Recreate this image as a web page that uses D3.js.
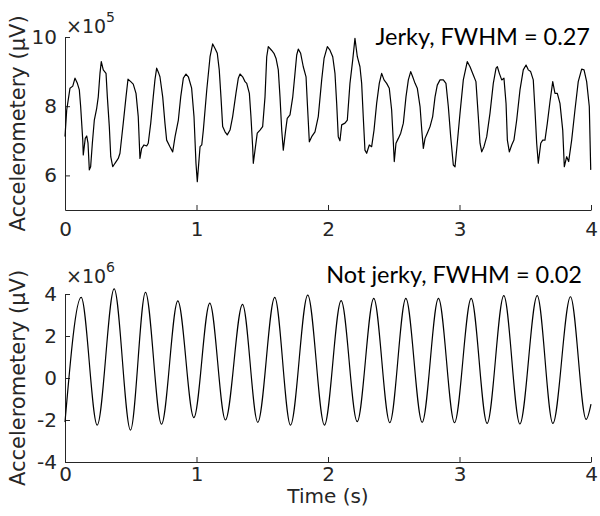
<!DOCTYPE html>
<html><head><meta charset="utf-8">
<script src="https://cdn.jsdelivr.net/npm/d3@7"></script>
<style>
body{margin:0;background:#fff;}
svg text{font-family:"DejaVu Sans",sans-serif;}
</style></head><body>
<svg id="c" width="600" height="516"></svg>
<script>
// Jerky recording (values in units of 1e5 µV)
const jerkyTime = [0,0.013,0.038,0.059,0.076,0.094,0.109,0.119,0.135,0.139,0.154,0.165,0.175,0.185,0.195,0.208,0.223,0.241,0.253,0.266,0.276,0.291,0.312,0.322,0.337,0.348,0.363,0.380,0.405,0.418,0.443,0.464,0.479,0.500,0.519,0.540,0.557,0.570,0.583,0.601,0.621,0.633,0.652,0.671,0.684,0.697,0.713,0.722,0.743,0.760,0.773,0.798,0.819,0.837,0.862,0.880,0.900,0.920,0.938,0.963,0.981,0.996,1.006,
1.027,1.040,1.052,1.078,1.103,1.123,1.141,1.158,1.173,1.186,1.199,1.217,1.234,1.255,1.275,1.300,1.318,1.331,1.351,1.369,1.382,1.402,1.414,1.427,1.432,1.445,1.462,1.483,1.503,1.521,1.534,1.546,1.572,1.589,1.605,1.622,1.635,1.648,1.660,1.678,1.690,1.711,1.732,1.749,1.762,1.774,1.792,1.812,1.833,1.843,1.858,1.876,1.901,1.926,1.952,1.970,1.995,2.015,2.036,2.053,2.066,2.078,
2.091,2.104,2.129,2.147,2.167,2.188,2.205,2.223,2.243,2.256,2.268,2.281,2.294,2.314,2.332,2.350,2.370,2.390,2.408,2.426,2.446,2.466,2.484,2.496,2.504,2.517,2.535,2.553,2.573,2.593,2.611,2.629,2.644,2.662,2.679,2.700,2.713,2.725,2.738,2.755,2.776,2.796,2.814,2.831,2.852,2.877,2.897,2.915,2.933,2.953,2.966,2.983,3.004,3.029,3.059,3.080,3.105,
3.125,3.143,3.156,3.169,3.186,3.207,3.232,3.257,3.278,3.288,3.303,3.321,3.338,3.354,3.364,3.379,3.397,3.414,3.435,3.460,3.485,3.506,3.523,3.541,3.561,3.574,3.587,3.599,3.618,3.633,3.650,3.668,3.688,3.709,3.726,3.744,3.764,3.785,3.797,3.815,3.830,3.853,3.878,3.903,3.929,3.947,3.967,3.987,3.998];
const jerkyValue = [7.12,7.89,8.52,8.58,8.81,8.66,8.47,7.99,7.02,6.59,7.07,7.14,6.93,6.16,6.25,6.93,7.60,7.94,8.27,8.95,9.29,9.05,8.95,8.27,7.41,6.54,6.25,6.35,6.49,6.64,7.51,8.27,8.78,8.71,8.64,8.37,7.70,6.49,6.78,6.88,6.85,6.93,7.51,8.27,8.76,9.10,8.95,8.85,8.27,7.51,7.02,6.83,6.68,7.12,7.60,8.27,8.81,8.93,8.85,8.52,7.70,6.35,5.82,
6.83,6.88,7.31,8.47,9.43,9.80,9.67,9.53,9.05,8.27,7.41,7.26,7.17,7.31,7.70,8.37,8.81,8.93,8.85,8.71,8.66,8.37,7.70,6.83,6.35,6.73,7.22,7.31,7.41,8.27,9.43,9.72,9.61,9.53,9.38,9.05,8.27,7.31,6.73,7.31,7.65,7.75,8.27,8.95,9.48,9.65,9.53,9.14,8.85,8.08,6.97,7.12,7.26,7.70,8.76,9.38,9.72,9.62,9.43,8.95,8.08,7.12,
7.00,7.46,7.51,7.60,8.66,9.34,9.96,9.43,9.14,8.66,7.70,6.73,6.64,6.88,6.83,7.31,8.08,8.66,8.95,8.76,8.66,8.52,7.89,7.02,6.40,6.93,7.07,7.22,7.51,8.27,8.76,9.00,8.85,8.66,8.52,7.99,7.31,6.78,7.07,7.22,7.41,7.70,8.27,8.61,8.76,8.76,8.66,7.99,7.12,6.30,6.25,6.93,7.80,8.76,9.29,9.14,8.90,
8.71,7.70,6.93,6.68,6.83,7.12,7.80,8.66,9.10,9.14,8.95,8.76,8.81,8.08,7.02,6.68,6.88,7.02,7.60,8.47,9.05,9.19,9.05,9.00,8.76,7.89,6.93,6.35,6.93,7.02,7.02,7.51,8.13,8.71,8.37,8.37,8.08,7.31,6.25,6.54,6.40,7.02,7.89,8.71,9.07,9.05,8.71,7.99,6.16];

// Not jerky recording (values in units of 1e6 µV): successive peaks and troughs
const smoothTime = [0,0.123,0.245,0.374,0.498,0.612,0.734,0.858,0.980,1.101,1.220,1.350,1.466,1.595,1.715,1.846,1.973,2.100,2.222,2.348,2.470,2.592,2.716,2.840,2.962,3.089,3.210,3.337,3.459,3.591,3.710,3.844,3.963,4.000];
const smoothValue = [-2.10,3.84,-2.24,4.24,-2.48,4.08,-2.20,3.67,-1.89,3.57,-2.00,3.51,-2.11,3.84,-2.24,3.95,-2.24,3.68,-2.08,3.79,-2.13,3.79,-2.11,3.79,-2.13,3.79,-2.16,3.92,-2.19,3.92,-2.16,3.87,-1.97,-1.24];

const timeTicks = [0,1,2,3,4];
const jerkyTicks = [6,8,10];
const smoothTicks = [-4,-2,0,2,4];
const titles = ["Jerky, FWHM = 0.27", "Not jerky, FWHM = 0.02"];
const exponents = ["5","6"];
const yLabel = "Accelerometery (\u03bcV)";
const xLabel = "Time (s)";

const svg = d3.select("#c");
const axisColor = "#262626";
const fmt = d => (d < 0 ? "-" : "") + Math.abs(d);

function panel(cfg) {
  const x = d3.scaleLinear().domain([0,4]).range([65,591]);
  const y = d3.scaleLinear().domain(cfg.domain).range([cfg.bottom, cfg.top]);
  const g = svg.append("g");

  const xa = g.append("g").attr("transform", `translate(0,${cfg.bottom})`)
    .call(d3.axisBottom(x).tickValues(timeTicks).tickFormat(fmt)
      .tickSizeInner(-5).tickSizeOuter(0).tickPadding(cfg.xPad));
  const ya = g.append("g").attr("transform", `translate(65,0)`)
    .call(d3.axisLeft(y).tickValues(cfg.ticks).tickFormat(fmt)
      .tickSizeInner(-5).tickSizeOuter(0).tickPadding(8));
  [xa, ya].forEach(a => {
    a.attr("font-family", "DejaVu Sans").attr("font-size", 20);
    a.selectAll("path, line").attr("stroke", axisColor).attr("stroke-width", 1);
    a.selectAll("text").attr("fill", axisColor);
  });

  const line = d3.line().x(d => x(d[0])).y(d => y(d[1])).curve(cfg.curve);
  g.append("path")
    .datum(cfg.t.map((t, i) => [t, cfg.v[i]]))
    .attr("fill", "none").attr("stroke", "#000").attr("stroke-width", 1.2)
    .attr("stroke-linejoin", "round")
    .attr("d", line);

  // exponent label
  const ex = g.append("text").attr("x", 66).attr("y", cfg.expY).attr("fill", axisColor)
    .attr("font-size", 19);
  ex.append("tspan").text("\u00d710");
  ex.append("tspan").attr("dy", -11).attr("font-size", 14).text(cfg.exp);

  // y label
  g.append("text")
    .attr("transform", `translate(25,${(cfg.top + cfg.bottom) / 2}) rotate(-90)`)
    .attr("text-anchor", "middle").attr("font-size", 21).attr("fill", axisColor)
    .text(yLabel);

  // title
  g.append("text").attr("x", cfg.titleX).attr("y", cfg.titleY)
    .attr("text-anchor", "end").attr("font-size", 23.5).attr("fill", "#000")
    .style("font-family", "Lato, sans-serif")
    .text(cfg.title);
  return x;
}

panel({domain: [5, 10], top: 37, bottom: 210, ticks: jerkyTicks, t: jerkyTime, v: jerkyValue,
  curve: d3.curveLinear, exp: exponents[0], expY: 33, xPad: 12, title: titles[0], titleX: 590, titleY: 45});
const xb = panel({domain: [-4, 4], top: 294, bottom: 462, ticks: smoothTicks, t: smoothTime, v: smoothValue,
  curve: d3.curveMonotoneX, exp: exponents[1], expY: 283, xPad: 5, title: titles[1], titleX: 582, titleY: 283});

svg.append("text").attr("x", xb(2)).attr("y", 503).attr("text-anchor", "middle")
  .attr("font-size", 20).attr("fill", axisColor).text(xLabel);
</script>
</body></html>
